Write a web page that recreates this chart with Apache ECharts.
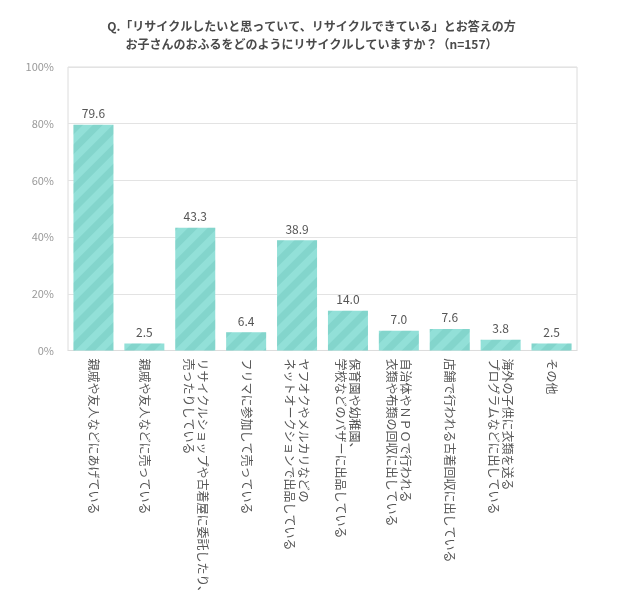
<!DOCTYPE html>
<html><head><meta charset="utf-8">
<script src="https://cdn.jsdelivr.net/npm/echarts@6/dist/echarts.min.js"></script>
<style>html,body{margin:0;background:#fff}#c{width:623px;height:601px}</style>
</head><body><div id="c"></div>
<script>
var categories = [
  '親戚や友人などにあげている',
  '親戚や友人などに売っている',
  'リサイクルショップや古着屋に委託したり、\n売ったりしている',
  'フリマに参加して売っている',
  'ヤフオクやメルカリなどの\nネットオークションで出品している',
  '保育園や幼稚園、\n学校などのバザーに出品している',
  '自治体やＮＰＯで行われる\n衣類や布類の回収に出している',
  '店舗で行われる古着回収に出している',
  '海外の子供に衣類を送る\nプログラムなどに出している',
  'その他'
];
var values = [79.6, 2.5, 43.3, 6.4, 38.9, 14.0, 7.0, 7.6, 3.8, 2.5];
var yTicks = [0, 20, 40, 60, 80, 100];

var chart = echarts.init(document.getElementById('c'));
var font = '"Noto Sans CJK JP", sans-serif';
chart.setOption({
  animation: false,
  title: {
    text: 'Q.「リサイクルしたいと思っていて、リサイクルできている」とお答えの方\nお子さんのおふるをどのようにリサイクルしていますか？（n=157）',
    left: 'center', top: 12,
    textStyle: {fontSize: 12, fontWeight: 'bold', color: '#4a4a4a', lineHeight: 18, fontFamily: font}
  },
  grid: {left: 68, right: 46, top: 67, bottom: 247, show: true, borderColor: '#dcdcdc', borderWidth: 1},
  xAxis: {
    type: 'category', data: categories,
    axisTick: {show: false},
    axisLine: {lineStyle: {color: '#dcdcdc'}},
    axisLabel: {rotate: -90, interval: 0, color: '#555', fontSize: 12, lineHeight: 14, fontFamily: font, margin: 8}
  },
  yAxis: {
    type: 'value', min: 0, max: 100, interval: 20,
    axisLabel: {formatter: function (v) { return yTicks.indexOf(v) >= 0 ? v + '%' : ''; }, color: '#999', fontSize: 11, fontFamily: font, margin: 14},
    splitLine: {lineStyle: {color: '#e3e3e3'}}
  },
  series: [{
    type: 'bar', data: values, barWidth: 40,
    itemStyle: {
      color: '#92e0d8',
      decal: {symbol: 'rect', dashArrayX: [1, 0], dashArrayY: [7, 7], rotation: -Math.PI / 4, color: 'rgba(60,160,150,0.18)'}
    },
    label: {show: true, position: 'top', color: '#555', fontSize: 12, fontFamily: font,
      formatter: function (p) { return p.value.toFixed(1); }}
  }]
});
</script></body></html>
